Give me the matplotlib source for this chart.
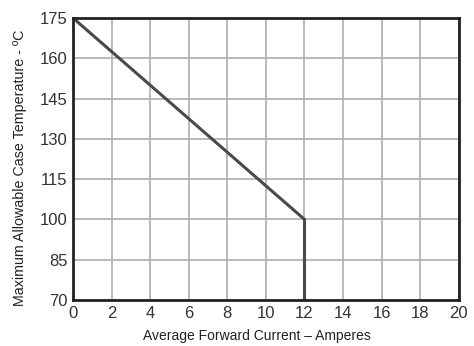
import numpy as np
import matplotlib.pyplot as plt

plt.rcParams['font.family'] = ['Liberation Sans', 'DejaVu Sans']

# Derating curve: current (A) vs max case temperature (C)
current = [0, 12.0, 12.0]
temperature = [175, 100, 70]

x_ticks = np.arange(0, 21, 2)
y_ticks = [70, 85, 100, 115, 130, 145, 160, 175]

fig = plt.figure(figsize=(4.74, 3.46), dpi=100)
ax = fig.add_axes([0.154, 0.133, 0.814, 0.815])

ax.plot(current, temperature, color='#4a4a4a', lw=2.2, solid_joinstyle='miter', zorder=3)

ax.set_xlim(0, 20)
ax.set_ylim(70, 175)
ax.set_xticks(x_ticks)
ax.set_yticks(y_ticks)
ax.grid(True, color='#b4b4b4', lw=1.3)
ax.tick_params(length=0, labelsize=12, colors='#333333', pad=4)
for s in ax.spines.values():
    s.set_linewidth(2)
    s.set_color('#222222')
    s.set_zorder(4)

ax.set_xlabel('Average Forward Current – Amperes', fontsize=10, color='#222222', labelpad=6)
ax.set_ylabel('Maximum Allowable Case Temperature - ºC', fontsize=10.3, color='#222222', labelpad=9)
# labels sit slightly off-centre in the original
ax.xaxis.label.set_x(0.477)
ax.yaxis.label.set_y(0.47)

fig.savefig('out.png', dpi=100)
